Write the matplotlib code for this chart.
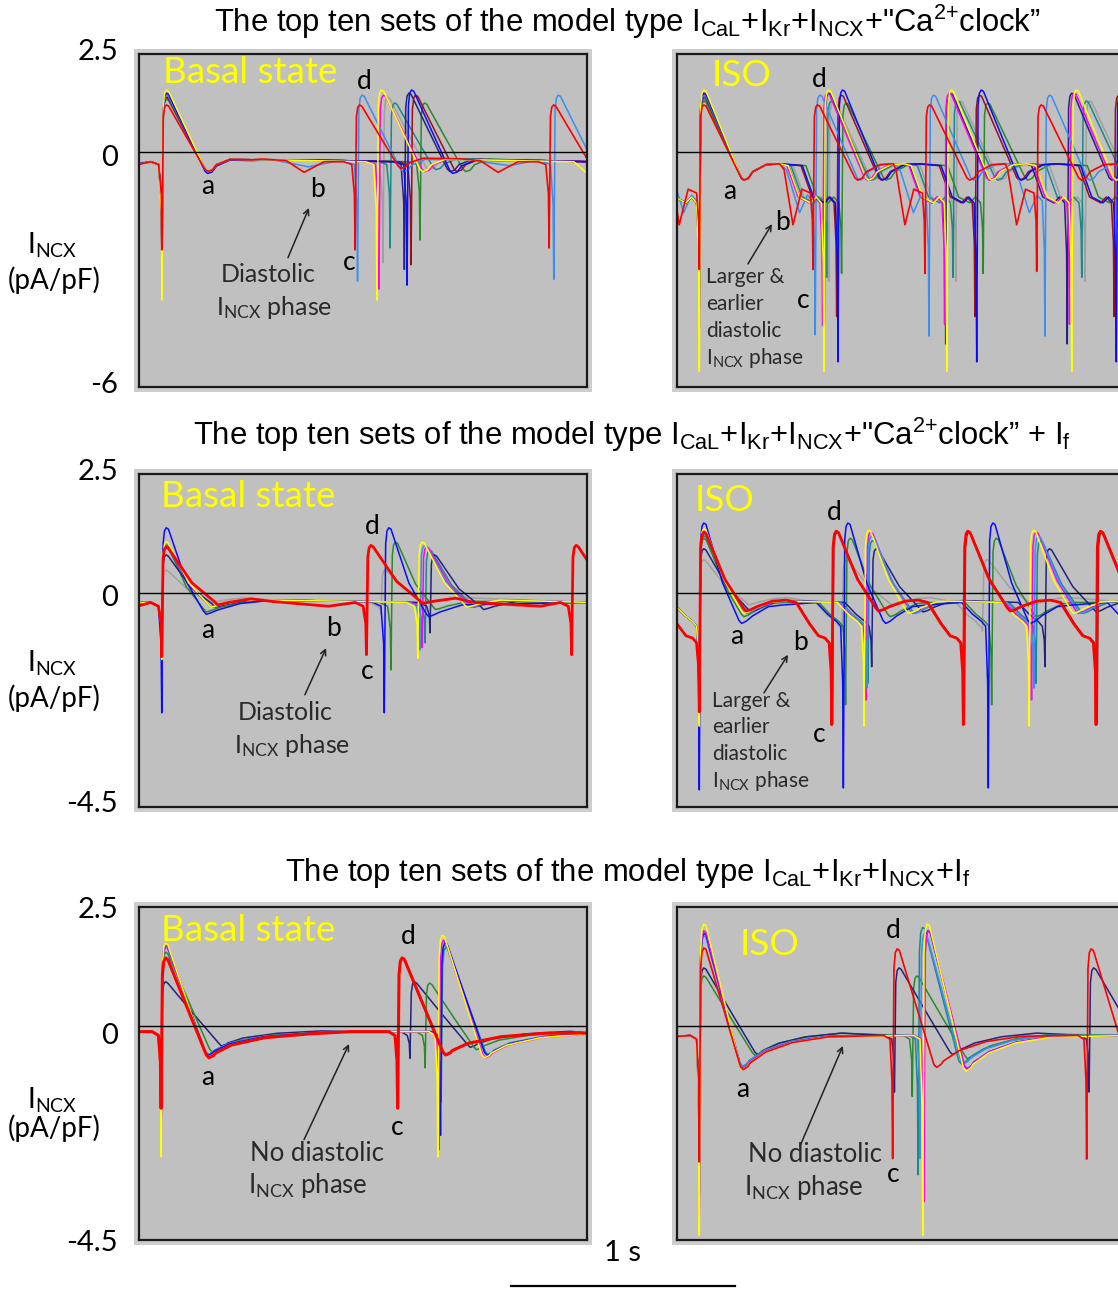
import numpy as np
import matplotlib
matplotlib.use('Agg')
import matplotlib.pyplot as plt
from matplotlib.patches import Rectangle

W, H = 1118, 1289

plt.rcParams['font.family'] = ['Lato', 'DejaVu Sans']
plt.rcParams['mathtext.fontset'] = 'custom'
plt.rcParams['mathtext.rm'] = 'Liberation Sans'
plt.rcParams['mathtext.sf'] = 'Lato'

C = dict(red='#ff0000', lightblue='#3a8ef0', yellow='#ffff00', magenta='#ff00ff',
         gray='#a0a0a0', teal='#178a8a', blue='#0a0aff', darkred='#9a1010',
         green='#2a8a2a', navy='#23237f')

# ---------------- data ----------------
# each trace: spike times (s), spike minimum, peak, post-AP trough (pA/pF)

# row 1, basal
P1_COL = ['gray', 'teal', 'green', 'navy', 'darkred', 'magenta', 'lightblue', 'blue', 'yellow', 'red']
P1_TS = [[0.103, 1.094], [0.103, 1.126], [0.103, 1.26], [0.103, 1.19], [0.103, 1.22],
         [0.103, 1.076], [0.103, 0.98, 1.86], [0.103, 1.202], [0.103, 1.067], [0.103, 0.969, 1.839]]
P1_MIN = [[-3.0, -2.83], [-2.8, -2.45], [-2.7, -2.25], [-3.0, -3.0], [-2.8, -2.88],
          [-3.2, -3.5], [-3.0, -3.3, -3.25], [-3.2, -3.4], [-3.78, -3.78], [-2.5, -2.5, -2.45]]
P1_PEAK = [[1.4, 1.4], [1.35, 1.25], [1.35, 1.25], [1.4, 1.5], [1.4, 1.45],
           [1.45, 1.45], [1.45, 1.45, 1.45], [1.5, 1.58], [1.58, 1.58], [1.2, 1.2, 1.2]]
P1_TR = [[-0.5, -0.45], [-0.5, -0.45], [-0.5, -0.5], [-0.5, -0.5], [-0.5, -0.5],
         [-0.5, -0.5], [-0.5, -0.5, -0.5], [-0.55, -0.55], [-0.5, -0.5], [-0.5, -0.42, -0.45]]
P1_DUR = [0.205] * 10
P1_BASE = [(0.0, -0.3), (0.6, -0.2), (0.9, -0.22), (1.5, -0.2), (1.8, -0.22), (2.02, -0.25)]
P1_DIA = [P1_BASE] * 6 + [
    [(0.0, -0.28), (0.6, -0.2), (0.76, -0.38), (0.9, -0.22), (1.5, -0.22), (1.66, -0.35), (1.78, -0.22)],
    P1_BASE,
    [(0.0, -0.32), (0.6, -0.2), (1.5, -0.2), (1.95, -0.25), (2.02, -0.6)],
    [(0.0, -0.32), (0.55, -0.18), (0.66, -0.22), (0.74, -0.52), (0.83, -0.25),
     (1.45, -0.18), (1.53, -0.22), (1.61, -0.52), (1.7, -0.25)]]

# row 1, ISO
P2_COL = P1_COL
P2_TS = [[0.10, 0.68, 1.25, 1.83], [0.10, 0.671, 1.238, 1.815], [0.10, 0.738, 1.373, 2.0],
         [0.10, 0.66, 1.205, 1.75], [0.10, 0.716, 1.336, 1.96], [0.10, 0.653, 1.2, 1.76],
         [0.10, 0.62, 1.13, 1.65], [0.10, 0.722, 1.344, 1.97], [0.10, 0.659, 1.21, 1.77],
         [0.10, 0.61, 1.112, 1.613, 2.115]]
P2_MIN = [[-3.3, -3.3, -3.3, -3.3], [-3.5, -3.2, -3.2, -3.2], [-3.5, -3.1, -3.1, -3.1],
          [-4.0, -4.8, -4.9, -4.9], [-3.8, -4.2, -4.2, -4.2], [-4.5, -4.43, -4.4, -4.4],
          [-4.0, -4.67, -4.7, -4.7], [-4.5, -5.36, -5.36, -5.36], [-5.6, -5.6, -5.6, -5.6],
          [-3.0, -3.0, -3.1, -3.05, -3.0]]
P2_PEAK = [[1.3, 1.3, 1.3, 1.3], [1.35, 1.3, 1.3, 1.3], [1.3, 1.25, 1.25, 1.25],
           [1.45, 1.5, 1.5, 1.5], [1.4, 1.45, 1.45, 1.45], [1.5, 1.5, 1.5, 1.5],
           [1.45, 1.45, 1.45, 1.45], [1.5, 1.58, 1.58, 1.58], [1.58, 1.58, 1.58, 1.58],
           [1.2, 1.2, 1.2, 1.2, 1.2]]
P2_TR = [[-0.72] * len(t) for t in P2_TS]
P2_DUR = [0.2] * 10
P2_PRE_RED = [(-0.13, -0.45), (-0.09, -1.86), (-0.05, -0.95), (-0.012, -1.05)]
P2_PRE_LB = [(-0.13, -0.45), (-0.07, -1.55), (-0.035, -1.1), (-0.012, -1.25)]
P2_PRE = [None] * 6 + [P2_PRE_LB, None, None, P2_PRE_RED]
P2_DIA = [[(0.0, -1.0)]] * 10

# row 2, basal
P3_COL = ['gray', 'teal', 'green', 'navy', 'magenta', 'lightblue', 'blue', 'yellow', 'red']
P3_TS = [[0.102, 1.085], [0.102, 1.283], [0.102, 1.13], [0.102, 1.305], [0.102, 1.27],
         [0.102, 1.26], [0.102, 1.10], [0.102, 1.25], [0.102, 1.02, 1.94]]
P3_MIN = [[-1.0, -0.45], [-1.3, -1.05], [-1.5, -1.62], [-1.2, -0.84], [-1.3, -1.15],
          [-1.3, -1.2], [-2.52, -2.52], [-1.4, -1.38], [-1.34, -1.3, -1.3]]
P3_PEAK = [[0.48, 0.48], [0.95, 0.9], [1.0, 1.07], [0.8, 0.8], [1.0, 0.97],
           [1.05, 1.0], [1.37, 1.37], [1.07, 1.07], [0.97, 1.0, 1.0]]
P3_TR = [[-0.2, -0.2], [-0.3, -0.3], [-0.4, -0.35], [-0.3, -0.35], [-0.3, -0.3],
         [-0.3, -0.3], [-0.45, -0.5], [-0.3, -0.3], [-0.25, -0.22, -0.25]]
P3_DUR = [0.22, 0.22, 0.2, 0.24, 0.22, 0.22, 0.2, 0.22, 0.25]
P3_BASE = [(0.0, -0.2), (0.6, -0.15), (1.0, -0.18), (2.02, -0.2)]
P3_DIA = [P3_BASE] * 8 + [[(0.0, -0.27), (0.6, -0.18), (0.85, -0.28), (1.5, -0.2), (1.8, -0.28)]]

# row 2, ISO
P4_COL = P1_COL
P4_TS = [[0.10, 0.74, 1.37], [0.10, 0.856, 1.61], [0.10, 0.756, 1.411], [0.10, 0.873, 1.65],
         [0.10, 0.697, 1.288, 1.884], [0.10, 0.848, 1.59], [0.10, 0.852, 1.60],
         [0.10, 0.746, 1.396, 2.05], [0.10, 0.839, 1.579], [0.10, 0.694, 1.284, 1.879]]
P4_MIN = [[-1.5, -0.8, -0.8], [-2.3, -1.9, -1.9], [-2.6, -2.35, -2.35], [-2.3, -1.55, -1.55],
          [-2.5, -2.75, -2.75, -2.75], [-2.6, -2.25, -2.25], [-2.5, -2.0, -2.0],
          [-4.14, -4.1, -4.1, -4.1], [-2.8, -2.8, -2.8], [-2.5, -2.77, -2.77, -2.77]]
P4_PEAK = [[0.7, 0.7, 0.7], [1.15, 1.1, 1.1], [1.2, 1.15, 1.15], [0.93, 0.93, 0.93],
           [1.26, 1.28, 1.28, 1.28], [1.3, 1.28, 1.28], [1.25, 1.2, 1.2],
           [1.47, 1.47, 1.47, 1.47], [1.35, 1.32, 1.32], [1.28, 1.3, 1.3, 1.3]]
P4_TRV = [-0.25, -0.43, -0.5, -0.4, -0.38, -0.43, -0.43, -0.64, -0.43, -0.38]
P4_TR = [[v] * len(t) for v, t in zip(P4_TRV, P4_TS)]
P4_DUR = [0.22, 0.21, 0.2, 0.23, 0.21, 0.21, 0.21, 0.19, 0.2, 0.21]
P4_PRE_RED = [(-0.16, -0.2), (-0.1, -0.65), (-0.06, -0.9), (-0.03, -0.95), (-0.012, -1.05)]
P4_PRE = [None] * 4 + [P4_PRE_RED] + [None] * 4 + [P4_PRE_RED]
P4_DIA = [[(2.02, -0.2)]] * 10

# row 3, basal
P5_COL = ['navy', 'green', 'teal', 'lightblue', 'blue', 'magenta', 'yellow', 'red']
P5_TS = [[0.099, 1.215], [0.099, 1.283], [0.099, 1.355], [0.099, 1.35], [0.099, 1.352],
         [0.099, 1.345], [0.099, 1.34], [0.099, 1.16]]
P5_MIN = [[-2.2, -0.68], [-2.4, -0.88], [-2.3, -1.6], [-2.4, -2.1], [-2.5, -2.3],
          [-2.6, -2.6], [-2.75, -2.75], [-1.73, -1.73]]
P5_PEAK = [[0.93, 0.93], [1.55, 0.9], [1.65, 1.65], [1.65, 1.7], [1.7, 1.75],
           [1.7, 1.8], [1.74, 1.9], [1.43, 1.43]]
P5_TR = [[-0.42, -0.45], [-0.55, -0.5], [-0.6, -0.6], [-0.6, -0.6], [-0.62, -0.62],
         [-0.67, -0.67], [-0.67, -0.67], [-0.67, -0.61]]
P5_DUR = [0.27, 0.23, 0.21, 0.21, 0.21, 0.21, 0.21, 0.215]
P5_DIA = [[(0.0, -0.12), (0.95, -0.12), (1.1, -0.12), (2.02, -0.15)]] * 8

# row 3, ISO
P6_COL = ['green', 'navy', 'teal', 'lightblue', 'blue', 'magenta', 'yellow', 'red']
P6_TS = [[0.10, 1.055], [0.10, 0.975, 1.848], [0.10, 1.081], [0.10, 1.09], [0.10, 1.105],
         [0.10, 1.107], [0.10, 1.102], [0.10, 0.967, 1.837]]
P6_MIN = [[-3.3, -1.48], [-3.5, -1.39, -1.39], [-3.5, -3.13], [-3.6, -2.79], [-3.8, -3.5],
          [-4.0, -3.7], [-4.4, -4.4], [-2.86, -2.79, -2.8]]
P6_PEAK = [[1.05, 1.05], [1.22, 1.22, 1.22], [1.9, 2.07], [1.9, 1.95], [1.95, 2.0],
           [2.0, 2.0], [2.14, 2.14], [1.64, 1.62, 1.62]]
P6_TR = [[-0.62, -0.7], [-0.6, -0.6, -0.6], [-0.85, -0.8], [-0.85, -0.8], [-0.9, -0.9],
         [-0.9, -0.9], [-0.92, -0.95], [-0.92, -0.87, -0.87]]
P6_DUR = [0.25, 0.26, 0.195, 0.195, 0.195, 0.195, 0.195, 0.197]
P6_DIA = [[(0.0, -0.22), (2.02, -0.2)]] * 8

TITLES = ['The top ten sets of the model type $\\mathrm{I_{CaL}}$+$\\mathrm{I_{Kr}}$+$\\mathrm{I_{NCX}}$+"Ca$\\mathrm{^{2{+}}}$clock\u201d',
          'The top ten sets of the model type $\\mathrm{I_{CaL}}$+$\\mathrm{I_{Kr}}$+$\\mathrm{I_{NCX}}$+"Ca$\\mathrm{^{2{+}}}$clock\u201d + $\\mathrm{I_f}$',
          'The top ten sets of the model type $\\mathrm{I_{CaL}}$+$\\mathrm{I_{Kr}}$+$\\mathrm{I_{NCX}}$+$\\mathrm{I_f}$']
YLIMS = [(-6, 2.5), (-4.5, 2.5), (-4.5, 2.5)]
YTICK_TXT = [['2.5', '0', '-6'], ['2.5', '0', '-4.5'], ['2.5', '0', '-4.5']]


# ---------------- drawing ----------------
def build(ts_list, mins, peaks, troughs, dur, k, pre, rec, dia):
    pts, wins = [], []
    starts = [t + pre[0][0] for t in ts_list]
    for i, ts in enumerate(ts_list):
        vmin, vpk, vtr = mins[i], peaks[i], troughs[i]
        for dt, v in pre:
            pts.append((ts + dt, v))
        lastpre = pre[-1][1]
        tm = ts + 0.02 + 0.5 * (dur - 0.02)
        pts += [(ts - 0.003, lastpre + 0.35 * (vmin - lastpre)), (ts, vmin),
                (ts + 0.006, 0.75 * vpk), (ts + 0.012, 0.95 * vpk),
                (ts + 0.02, vpk), (ts + 0.03, vpk - 0.03),
                (tm, vpk + k * (vtr - vpk)),
                (ts + dur - 0.012, vtr + 0.06), (ts + dur, vtr),
                (ts + dur + 0.02, 0.93 * vtr)]
        nxt = starts[i + 1] if i + 1 < len(ts_list) else np.inf
        end = ts + dur + 0.02
        for dt, f in rec:
            if ts + dur + dt < nxt:
                pts.append((ts + dur + dt, f * vtr))
                end = ts + dur + dt
        wins.append((starts[i], end))
    for t, v in dia:
        if not any(a <= t <= b for a, b in wins):
            pts.append((t, v))
    pts.sort()
    x, y = zip(*pts)
    return x, y


def fx(x):
    return x / W


def fy(y):
    return 1 - y / H


fig = plt.figure(figsize=(W / 100, H / 100), dpi=100)

LEFT, RIGHT = 139, 677
AW = 448
ROWS = [(54, 387), (474, 807), (907, 1240)]


def make_ax(x0, row, ylim):
    top, bot = ROWS[row]
    fig.patches.append(Rectangle((fx(x0 - 5), fy(bot + 5)), fx(AW + 10), (bot - top + 10) / H,
                                 transform=fig.transFigure, facecolor='#cdcdcd',
                                 edgecolor='none', zorder=-1))
    ax = fig.add_axes([fx(x0), fy(bot), fx(AW), (bot - top) / H])
    ax.set_zorder(1)
    ax.set_facecolor('#c0c0c0')
    ax.set_xlim(0, AW / 223.0)
    ax.set_ylim(*ylim)
    ax.set_xticks([])
    ax.set_yticks([])
    for s in ax.spines.values():
        s.set_color('#1a1a1a')
        s.set_linewidth(1.6)
    ax.axhline(0, color='black', lw=1.0, zorder=3)
    return ax


def draw(ax, cols, tss, mins, peaks, trs, durs, dias, k, pre, rec, pres=None, thick=1.2):
    for i, c in enumerate(cols):
        p = pre if pres is None or pres[i] is None else pres[i]
        x, y = build(tss[i], mins[i], peaks[i], trs[i], durs[i], k, p, rec, dias[i])
        lw = thick if c == 'red' else 1.1
        ax.plot(x, y, color=C[c], lw=lw, solid_joinstyle='round', zorder=2)


def label(ax, t, v, s, size=19, ha='center', color='black'):
    ax.text(t, v, s, fontsize=size, ha=ha, va='center', color=color, zorder=5)


def arrow(ax, tail, head):
    ax.annotate('', xy=head, xytext=tail,
                arrowprops=dict(arrowstyle='->', lw=1.1, color='#222222',
                                shrinkA=0, shrinkB=0), zorder=5)


NCX = '$\\mathsf{I_{NCX}}$'
TXT = '#2a2a2a'
BIG = 26.5

# row 1
ax1 = make_ax(LEFT, 0, YLIMS[0])
draw(ax1, P1_COL, P1_TS, P1_MIN, P1_PEAK, P1_TR, P1_DUR, P1_DIA, 0.5,
     [(-0.05, -0.25), (-0.015, -0.32)], [(0.04, 0.65), (0.1, 0.38), (0.2, 0.4)])
label(ax1, 0.108, 2.04, 'Basal state', size=BIG, ha='left', color='#ffff00')
label(ax1, 0.31, -0.87, 'a')
label(ax1, 0.80, -0.97, 'b')
label(ax1, 0.942, -2.83, 'c')
label(ax1, 1.009, 1.79, 'd')
arrow(ax1, (0.668, -2.70), (0.762, -1.43))
label(ax1, 0.578, -3.14, 'Diastolic', size=18, color=TXT)
label(ax1, 0.605, -3.98, NCX + ' phase', size=18, color=TXT)

ax2 = make_ax(RIGHT, 0, YLIMS[0])
draw(ax2, P2_COL, P2_TS, P2_MIN, P2_PEAK, P2_TR, P2_DUR, P2_DIA, 0.5,
     [(-0.16, -0.35), (-0.11, -1.15), (-0.06, -1.3), (-0.035, -1.15), (-0.012, -1.3)],
     [(0.04, 0.7), (0.1, 0.45), (0.16, 0.42)], pres=P2_PRE)
label(ax2, 0.157, 1.96, 'ISO', size=BIG, ha='left', color='#ffff00')
label(ax2, 0.238, -1.02, 'a')
label(ax2, 0.475, -1.79, 'b')
label(ax2, 0.565, -3.78, 'c')
label(ax2, 0.637, 1.84, 'd')
arrow(ax2, (0.318, -2.86), (0.426, -1.84))
for s, v in zip(['Larger &', 'earlier', 'diastolic', NCX + ' phase'], [-3.18, -3.87, -4.56, -5.25]):
    label(ax2, 0.13, v, s, size=15, ha='left', color=TXT)

# row 2
ax3 = make_ax(LEFT, 1, YLIMS[1])
draw(ax3, P3_COL, P3_TS, P3_MIN, P3_PEAK, P3_TR, P3_DUR, P3_DIA, 0.62,
     [(-0.05, -0.2), (-0.015, -0.28)], [(0.05, 0.8), (0.15, 0.5)], thick=2.0)
label(ax3, 0.099, 2.02, 'Basal state', size=BIG, ha='left', color='#ffff00')
label(ax3, 0.31, -0.78, 'a')
label(ax3, 0.874, -0.74, 'b')
label(ax3, 1.022, -1.66, 'c')
label(ax3, 1.045, 1.39, 'd')
arrow(ax3, (0.744, -2.14), (0.839, -1.16))
label(ax3, 0.655, -2.52, 'Diastolic', size=18, color=TXT)
label(ax3, 0.685, -3.21, NCX + ' phase', size=18, color=TXT)

ax4 = make_ax(RIGHT, 1, YLIMS[1])
draw(ax4, P4_COL, P4_TS, P4_MIN, P4_PEAK, P4_TR, P4_DUR, P4_DIA, 0.6,
     [(-0.12, -0.2), (-0.07, -0.45), (-0.03, -0.6), (-0.012, -0.7)],
     [(0.05, 0.75), (0.12, 0.45), (0.18, 0.4)], pres=P4_PRE, thick=2.0)
label(ax4, 0.081, 1.95, 'ISO', size=BIG, ha='left', color='#ffff00')
label(ax4, 0.269, -0.92, 'a')
label(ax4, 0.552, -1.05, 'b')
label(ax4, 0.637, -2.98, 'c')
label(ax4, 0.704, 1.70, 'd')
arrow(ax4, (0.39, -2.1), (0.498, -1.3))
for s, v in zip(['Larger &', 'earlier', 'diastolic', NCX + ' phase'], [-2.27, -2.82, -3.38, -3.95]):
    label(ax4, 0.157, v, s, size=15, ha='left', color=TXT)

# row 3
ax5 = make_ax(LEFT, 2, YLIMS[2])
draw(ax5, P5_COL, P5_TS, P5_MIN, P5_PEAK, P5_TR, P5_DUR, P5_DIA, 0.5,
     [(-0.04, -0.12), (-0.012, -0.2)],
     [(0.03, 0.85), (0.1, 0.6), (0.25, 0.37), (0.45, 0.25)], thick=2.2)
label(ax5, 0.099, 2.0, 'Basal state', size=BIG, ha='left', color='#ffff00')
label(ax5, 0.31, -1.09, 'a')
label(ax5, 1.157, -2.14, 'c')
label(ax5, 1.206, 1.87, 'd')
arrow(ax5, (0.74, -2.39), (0.942, -0.38))
label(ax5, 0.798, -2.69, 'No diastolic', size=18.5, color=TXT)
label(ax5, 0.758, -3.36, NCX + ' phase', size=18.5, color=TXT)

ax6 = make_ax(RIGHT, 2, YLIMS[2])
draw(ax6, P6_COL, P6_TS, P6_MIN, P6_PEAK, P6_TR, P6_DUR, P6_DIA, 0.5,
     [(-0.04, -0.2), (-0.012, -0.28)],
     [(0.03, 0.85), (0.1, 0.6), (0.22, 0.38), (0.38, 0.25)])
label(ax6, 0.283, 1.72, 'ISO', size=BIG, ha='left', color='#ffff00')
label(ax6, 0.296, -1.34, 'a')
label(ax6, 0.969, -3.13, 'c')
label(ax6, 0.969, 2.0, 'd')
arrow(ax6, (0.552, -2.52), (0.744, -0.42))
label(ax6, 0.619, -2.71, 'No diastolic', size=18.5, color=TXT)
label(ax6, 0.57, -3.4, NCX + ' phase', size=18.5, color=TXT)

# titles
narrow = ['Liberation Sans Narrow', 'Liberation Sans']
for s, (x, y) in zip(TITLES, [(627, 22), (632, 435), (628, 873)]):
    fig.text(fx(x), fy(y), s, family=narrow, fontsize=22.3, ha='center', va='center')

# y tick labels and axis labels
TICK_Y = [[52, 158, 385], [472, 598, 804], [910, 1036, 1243]]
for labs, ys in zip(YTICK_TXT, TICK_Y):
    for s, y in zip(labs, ys):
        fig.text(fx(118), fy(y), s, fontsize=21, ha='right', va='center')
for y1, y2 in [(245, 280), (663, 698), (1100, 1128)]:
    fig.text(fx(52), fy(y1), NCX, fontsize=20, ha='center', va='center')
    fig.text(fx(54), fy(y2), '(pA/pF)', fontsize=20, ha='center', va='center')

# 1 s scale bar
fig.add_artist(plt.Line2D([fx(511), fx(735)], [fy(1286), fy(1286)], color='black', lw=1.6,
                          transform=fig.transFigure))
fig.text(fx(623), fy(1253), '1 s', fontsize=21, ha='center', va='center')

fig.savefig('out.png', dpi=100)
